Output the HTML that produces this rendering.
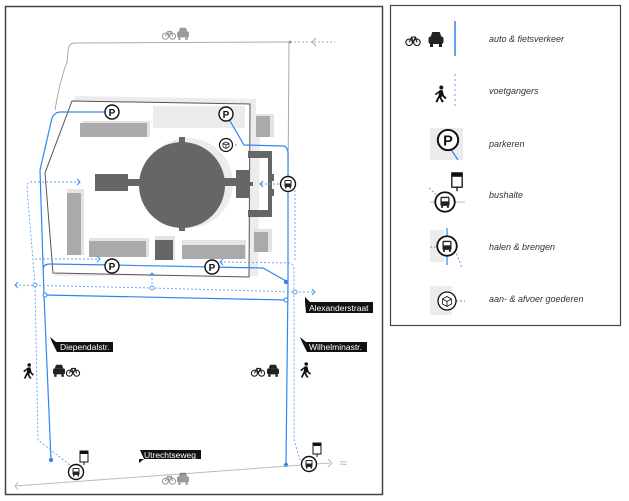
<!DOCTYPE html>
<html><head><meta charset="utf-8"><style>
html,body{margin:0;padding:0;background:#fff;width:629px;height:501px;overflow:hidden}
svg{display:block;font-family:"Liberation Sans",sans-serif}
</style></head><body>
<svg width="629" height="501" viewBox="0 0 629 501">
<defs>
<g id="P"><circle r="7" fill="#fff" stroke="#111" stroke-width="1.4"/><text y="3.8" text-anchor="middle" font-size="10" font-weight="bold" font-style="normal" fill="#111">P</text></g>
<g id="car"><rect x="-5" y="-3" width="10" height="5" rx="1.5" fill="#222"/><path d="M-3.5,-3 L-2.5,-6 L2.5,-6 L3.5,-3Z" fill="#222"/><rect x="-4" y="2" width="2" height="2" fill="#222"/><rect x="2" y="2" width="2" height="2" fill="#222"/></g>
<g id="bike" fill="none" stroke="#222" stroke-width="0.9"><circle cx="-3" cy="1" r="2.5"/><circle cx="3" cy="1" r="2.5"/><path d="M-3,1 L-1,-3 L2,-3 L3,1 M-1,-3 L0,1 L2,-3"/></g>
<g id="bus"><circle r="7.5" fill="#fff" stroke="#111" stroke-width="1.4"/><rect x="-3.5" y="-4" width="7" height="7" rx="1" fill="#222"/><rect x="-2.5" y="-3" width="5" height="2.5" fill="#fff"/><rect x="-3" y="3" width="1.5" height="1.5" fill="#222"/><rect x="1.5" y="3" width="1.5" height="1.5" fill="#222"/></g>
<g id="stop"><rect x="-4" y="-7" width="8" height="11" fill="#fff" stroke="#111" stroke-width="1"/><rect x="-4" y="-7" width="8" height="3" fill="#111"/><line x1="0" y1="4" x2="0" y2="7" stroke="#111"/></g>
<g id="walk" fill="#111"><circle cx="1" cy="-5" r="1.5"/><path d="M0,-3 L2,-3 L3,1 L5,3 L4,4 L1.5,1.5 L1,3 L3,6 L1.5,6.5 L-0.5,3 L-2,6.5 L-3.5,6 L-1,1 L-1,-1 L-3,1 L-4,0Z"/></g>
</defs>

<rect x="5.5" y="6.5" width="377" height="488" fill="none" stroke="#444" stroke-width="1.5"/>
<rect x="390.5" y="5.5" width="230" height="320" fill="none" stroke="#444" stroke-width="1.2"/>

<path d="M290,42 L74,43 Q68,44 68,52 L67,62 Q60,80 55,110" fill="none" stroke="#aaa" stroke-width="1"/>
<line x1="289" y1="42" x2="288" y2="185" stroke="#aaa" stroke-width="1"/>
<line x1="290" y1="42" x2="335" y2="42" stroke="#aaa" stroke-width="1" stroke-dasharray="2,2"/>
<path d="M316,38 L312,42 L316,46" fill="none" stroke="#aaa"/>
<circle cx="290" cy="42" r="1.5" fill="#999"/>
<g opacity="0.45"><g transform="translate(169,35) scale(1.2)"><use href="#bike"/></g><g transform="translate(183,35) scale(1.2)"><use href="#car"/></g></g>

<polygon points="76,96 256,99 256,130 260,130 258,276 55,276 47,173" fill="#ececec"/>
<polygon points="72,101 250,104 249,277 53,273 45,173" fill="#fff" stroke="#555" stroke-width="1"/>

<rect x="153" y="106" width="92" height="22" fill="#ebebeb"/>
<rect x="82" y="121" width="68" height="16" fill="#e3e3e3"/><rect x="80" y="123" width="67" height="14" fill="#aaa"/>
<rect x="256" y="114" width="18" height="23" fill="#e3e3e3"/><rect x="256" y="116" width="14" height="21" fill="#aaa"/>
<rect x="67" y="189" width="17" height="66" fill="#e3e3e3"/><rect x="67" y="193" width="14" height="62" fill="#aaa"/>
<rect x="89" y="238" width="60" height="19" fill="#e3e3e3"/><rect x="89" y="241" width="57" height="16" fill="#aaa"/>
<rect x="182" y="240" width="64" height="19" fill="#e3e3e3"/><rect x="182" y="245" width="63" height="14" fill="#aaa"/>
<rect x="254" y="229" width="18" height="23" fill="#e3e3e3"/><rect x="254" y="232" width="14" height="20" fill="#aaa"/>
<rect x="155" y="236" width="20" height="24" fill="#e3e3e3"/><rect x="155" y="240" width="18" height="20" fill="#666"/>
<circle cx="188" cy="183" r="45" fill="#ececec"/>
<circle cx="182" cy="185" r="43" fill="#666"/>
<rect x="179" y="137" width="6" height="6" fill="#666"/><rect x="179" y="226" width="6" height="5" fill="#666"/>
<rect x="95" y="174" width="33" height="17" fill="#666"/><rect x="128" y="179" width="12" height="7" fill="#666"/>
<rect x="220" y="178" width="20" height="8" fill="#666"/><rect x="236" y="170" width="14" height="28" fill="#666"/><rect x="250" y="182" width="3" height="4" fill="#666"/>
<rect x="248" y="151" width="24" height="7" fill="#666"/><rect x="268" y="151" width="4" height="65" fill="#666"/><rect x="248" y="210" width="24" height="7" fill="#666"/>
<rect x="268" y="174" width="6" height="7" fill="#666"/><rect x="268" y="189" width="6" height="7" fill="#666"/>

<g fill="none" stroke="#2f86f0" stroke-width="1.2">
<path d="M112,112 L60,112 Q55,112 52,118 L40,170 L44,295 L51,460"/>
<path d="M226,114 L244,145 L283,146 Q288,146 288,155 L288,282 L286,465"/>
<path d="M45,295 L286,300"/>
<path d="M43,270 Q43,264 50,264 L112,265 L212,267 L263,268 L286,281"/>
</g>
<circle cx="286" cy="282" r="2.2" fill="#2f86f0"/>
<circle cx="286" cy="465" r="2.2" fill="#2f86f0"/>
<circle cx="51" cy="460" r="2.2" fill="#2f86f0"/>
<circle cx="45" cy="295" r="2" fill="#fff" stroke="#2f86f0"/>
<circle cx="286" cy="300" r="2" fill="#fff" stroke="#2f86f0"/>

<g fill="none" stroke="#5aa0f5" stroke-width="0.9" stroke-dasharray="2,2">
<path d="M80,182 L30,182 Q27,182 27,188 L35,285 L38,440 L70,465"/>
<path d="M15,285 L152,288 L295,292 L315,292"/>
<path d="M35,259 L100,259"/>
<path d="M112,265 L212,267"/>
<path d="M220,262 L290,263 Q294,264 294,270 L294,440 L300,460"/>
<path d="M237,145 L226,145"/>
<path d="M283,184 L260,184"/>
<path d="M295,190 L295,260"/>
<path d="M152,288 L152,274"/>
</g>
<g fill="none" stroke="#3a8ef2" stroke-width="1">
<path d="M77,179 L80,182 L77,185"/><path d="M18,282 L15,285 L18,288"/><path d="M312,289 L315,292 L312,295"/>
<path d="M97,256 L100,259 L97,262"/><path d="M223,259 L220,262 L223,265"/><path d="M263,181 L260,184 L263,187"/>
<path d="M149,276 L152,273 L155,276"/>
</g>
<circle cx="35" cy="285" r="2" fill="#fff" stroke="#5aa0f5"/>
<circle cx="152" cy="288" r="2" fill="#fff" stroke="#5aa0f5"/>
<circle cx="295" cy="292" r="2" fill="#fff" stroke="#5aa0f5"/>

<use href="#P" x="112" y="112"/><use href="#P" x="226" y="114"/>
<use href="#P" x="112" y="266"/><use href="#P" x="212" y="267"/>
<g transform="translate(226,145)"><circle r="6.5" fill="#fff" stroke="#111" stroke-width="1.2"/><path d="M-3,-1.5 L0,-3 L3,-1.5 L3,2 L0,3.5 L-3,2Z M-3,-1.5 L0,0 L3,-1.5 M0,0 L0,3.5" fill="none" stroke="#111" stroke-width="0.7"/></g>
<use href="#bus" x="288" y="184"/>

<path d="M15,486 L330,463" fill="none" stroke="#bbb" stroke-width="1"/>
<path d="M18,482 L15,486 L18,490" fill="none" stroke="#bbb"/>
<path d="M328,459 L332,463 L328,467" fill="none" stroke="#bbb"/>
<text x="340" y="467" font-size="12" fill="#aaa">≈</text>
<g opacity="0.45"><g transform="translate(169,480) scale(1.2)"><use href="#bike"/></g><g transform="translate(183,480) scale(1.2)"><use href="#car"/></g></g>
<use href="#bus" x="76" y="472"/><use href="#stop" x="84" y="458"/>
<use href="#bus" x="309" y="464"/><use href="#stop" x="317" y="450"/>

<g transform="translate(28,371) scale(1.2)"><use href="#walk"/></g>
<g transform="translate(59,372) scale(1.2)"><use href="#car"/></g><g transform="translate(73,372) scale(1.2)"><use href="#bike"/></g>
<g transform="translate(258,372) scale(1.2)"><use href="#bike"/></g><g transform="translate(273,372) scale(1.2)"><use href="#car"/></g>
<g transform="translate(305,370) scale(1.2)"><use href="#walk"/></g>

<g font-size="8.5" fill="#fff">
<path d="M305,302 L373,302 L373,313 L306,313 Z M305,297 L310,302 L305,302Z" fill="#111"/>
<text x="309" y="311">Alexanderstraat</text>
<path d="M52,342 L113,342 L113,352 L57,352 Z M50,337 L56,342 L52,342Z" fill="#111"/>
<text x="60" y="350">Diependalstr.</text>
<path d="M302,342 L367,342 L367,352 L307,352 Z M300,337 L306,342 L302,342Z" fill="#111"/>
<text x="309" y="350">Wilhelminastr.</text>
<path d="M140,450 L201,450 L201,459 L144,459 Z M139,459 L144,459 L139,463Z" fill="#111"/>
<text x="144" y="458">Utrechtseweg</text>
</g>

<g font-size="9" font-style="italic" fill="#333">
<g transform="translate(413,41) scale(1.3)"><use href="#bike"/></g><g transform="translate(436,41) scale(1.5)"><use href="#car"/></g>
<line x1="455" y1="21" x2="455" y2="56" stroke="#2f86f0" stroke-width="1.5"/>
<text x="489" y="42">auto &amp; fietsverkeer</text>
<g transform="translate(440,94) scale(1.3)"><use href="#walk"/></g>
<line x1="455" y1="74" x2="455" y2="107" stroke="#5aa0f5" stroke-width="1" stroke-dasharray="2,3"/>
<text x="489" y="94">voetgangers</text>
<rect x="430" y="128" width="33" height="32" fill="#ebebeb"/>
<line x1="450" y1="148" x2="458" y2="160" stroke="#2f86f0" stroke-width="1.2"/>
<g transform="translate(448,140) scale(1.45)"><use href="#P"/></g>
<text x="489" y="147">parkeren</text>
<line x1="430" y1="202" x2="465" y2="202" stroke="#bbb"/>
<line x1="429" y1="188" x2="440" y2="198" stroke="#5aa0f5" stroke-dasharray="2,2"/>
<g transform="translate(445,202) scale(1.3)"><use href="#bus"/></g>
<g transform="translate(457,182) scale(1.3)"><use href="#stop"/></g>
<text x="489" y="198">bushalte</text>
<rect x="430" y="230" width="14" height="32" fill="#ececec"/>
<line x1="447" y1="228" x2="447" y2="265" stroke="#2f86f0" stroke-width="1.2"/>
<line x1="430" y1="247" x2="438" y2="247" stroke="#5aa0f5" stroke-dasharray="2,2"/>
<line x1="455" y1="250" x2="462" y2="268" stroke="#5aa0f5" stroke-dasharray="2,2"/>
<g transform="translate(447,246) scale(1.3)"><use href="#bus"/></g>
<text x="489" y="250">halen &amp; brengen</text>
<rect x="430" y="286" width="22" height="29" fill="#ececec"/>
<line x1="456" y1="301" x2="465" y2="301" stroke="#2f86f0" stroke-dasharray="2,2"/>
<g transform="translate(447,301)"><circle r="9" fill="#fff" stroke="#111" stroke-width="1.3"/><path d="M-4.5,-2 L0,-4.5 L4.5,-2 L4.5,3 L0,5.5 L-4.5,3Z M-4.5,-2 L0,0.5 L4.5,-2 M0,0.5 L0,5.5" fill="none" stroke="#111" stroke-width="0.8"/></g>
<text x="489" y="302">aan- &amp; afvoer goederen</text>
</g>
</svg>
</body></html>
